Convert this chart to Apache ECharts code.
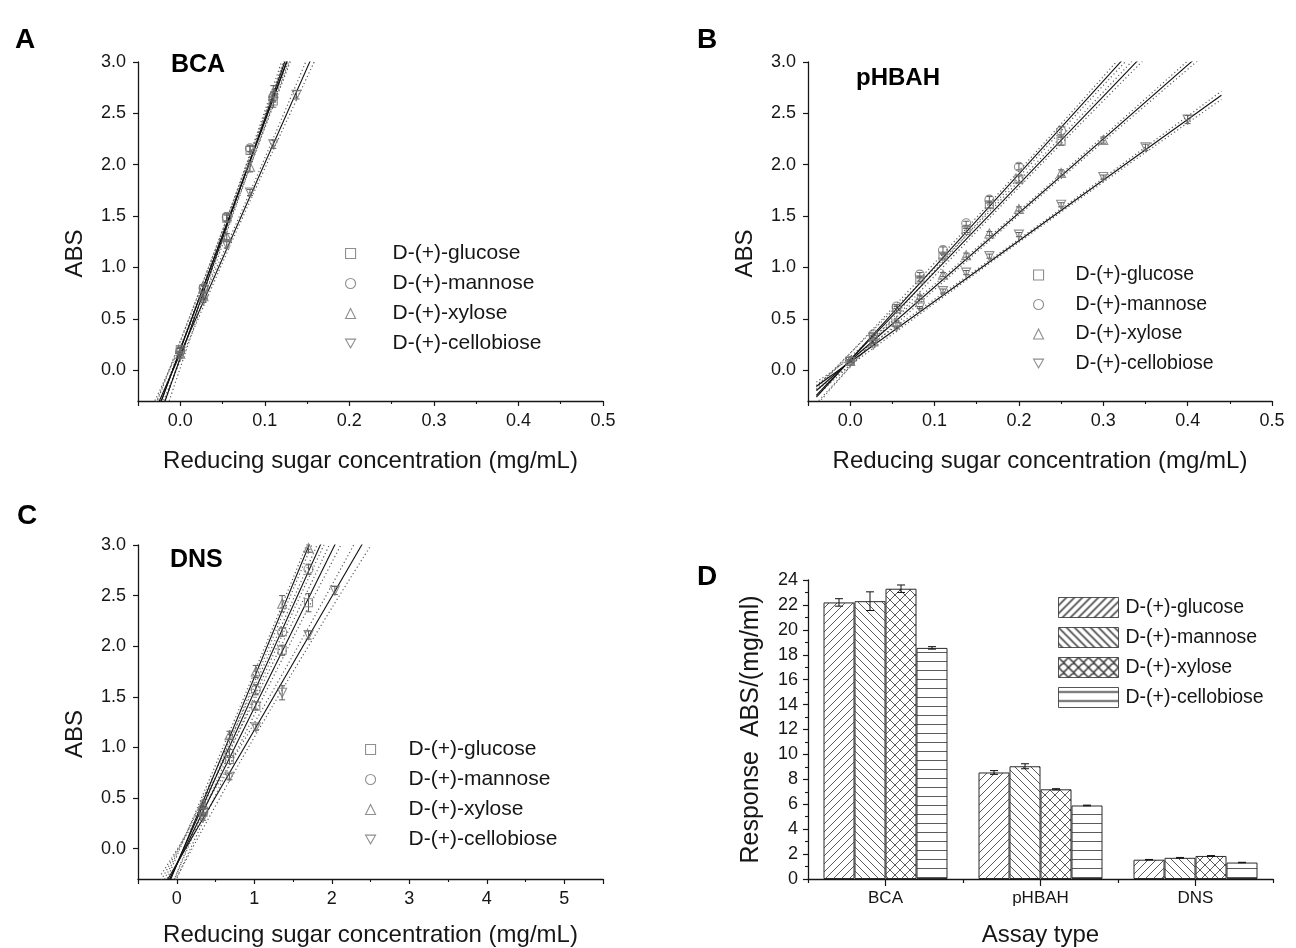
<!DOCTYPE html>
<html>
<head>
<meta charset="utf-8">
<title>Reducing sugar assays</title>
<script src="https://cdn.jsdelivr.net/npm/echarts@6/dist/echarts.min.js"></script>
<style>
  html, body { margin: 0; padding: 0; background: #fff; }
  #chart { width: 1296px; height: 948px; }
</style>
</head>
<body>
<div id="chart"></div>
<script>
// ---- data ----------------------------------------------------------------
const sugars = ['D-(+)-glucose', 'D-(+)-mannose', 'D-(+)-xylose', 'D-(+)-cellobiose'];
const assays = ['BCA', 'pHBAH', 'DNS'];

// BCA standards: concentration (mg/mL) and absorbance
const bcaX = [
  [0, 0.0275, 0.055, 0.0825, 0.11],
  [0, 0.0275, 0.055, 0.0825, 0.11],
  [0, 0.0275, 0.055, 0.0825, 0.11],
  [0, 0.0275, 0.055, 0.0825, 0.11, 0.1375]
];
const bcaY = [
  [0.20, 0.79, 1.48, 2.14, 2.62],
  [0.19, 0.80, 1.49, 2.16, 2.66],
  [0.16, 0.72, 1.30, 1.98, 2.70],
  [0.14, 0.68, 1.22, 1.73, 2.20, 2.68]
];
const bcaErr = [
  [0.02, 0.03, 0.03, 0.04, 0.06],
  [0.02, 0.03, 0.04, 0.03, 0.05],
  [0.02, 0.03, 0.03, 0.05, 0.07],
  [0.02, 0.02, 0.03, 0.03, 0.04, 0.04]
];

// pHBAH standards
const phbahX = [
  [0, 0.0275, 0.055, 0.0825, 0.11, 0.1375, 0.165, 0.2, 0.25],
  [0, 0.0275, 0.055, 0.0825, 0.11, 0.1375, 0.165, 0.2, 0.25],
  [0, 0.0275, 0.055, 0.0825, 0.11, 0.1375, 0.165, 0.2, 0.25, 0.3],
  [0, 0.0275, 0.055, 0.0825, 0.11, 0.1375, 0.165, 0.2, 0.25, 0.3, 0.35, 0.4]
];
const phbahY = [
  [0.09, 0.33, 0.60, 0.88, 1.11, 1.36, 1.61, 1.86, 2.23],
  [0.09, 0.35, 0.62, 0.93, 1.17, 1.43, 1.66, 1.98, 2.33],
  [0.09, 0.28, 0.47, 0.71, 0.93, 1.12, 1.33, 1.57, 1.92, 2.24],
  [0.08, 0.25, 0.42, 0.61, 0.77, 0.95, 1.11, 1.32, 1.61, 1.88, 2.17, 2.44]
];
const phbahErr = [
  [0.01, 0.01, 0.02, 0.02, 0.02, 0.02, 0.03, 0.03, 0.04],
  [0.01, 0.01, 0.02, 0.02, 0.03, 0.02, 0.03, 0.03, 0.04],
  [0.01, 0.01, 0.01, 0.02, 0.02, 0.02, 0.02, 0.02, 0.03, 0.03],
  [0.01, 0.01, 0.01, 0.01, 0.02, 0.02, 0.02, 0.02, 0.02, 0.02, 0.03, 0.04]
];

// DNS standards
const dnsX = [
  [0.34, 0.68, 1.02, 1.36, 1.70],
  [0.34, 0.68, 1.02, 1.36, 1.70],
  [0.34, 0.68, 1.02, 1.36, 1.70],
  [0.34, 0.68, 1.02, 1.36, 1.70, 2.04]
];
const dnsY = [
  [0.36, 0.88, 1.41, 1.96, 2.43],
  [0.39, 0.94, 1.57, 2.14, 2.76],
  [0.44, 1.12, 1.75, 2.42, 2.97],
  [0.31, 0.71, 1.20, 1.54, 2.11, 2.55]
];
const dnsErr = [
  [0.03, 0.04, 0.04, 0.05, 0.09],
  [0.03, 0.04, 0.05, 0.04, 0.05],
  [0.03, 0.04, 0.06, 0.08, 0.04],
  [0.03, 0.03, 0.03, 0.07, 0.04, 0.04]
];

// Response (slope of each calibration line), ABS/(mg/ml): [BCA, pHBAH, DNS]
const responseMean = [
  [22.2, 8.55, 1.55],
  [22.3, 9.05, 1.70],
  [23.3, 7.20, 1.85],
  [18.55, 5.90, 1.32]
];
const responseErr = [
  [0.30, 0.15, 0.02],
  [0.75, 0.20, 0.03],
  [0.30, 0.05, 0.03],
  [0.10, 0.03, 0.02]
];

// Intercepts of the linear fits
const bcaIntercept = [0.20, 0.20, 0.12, 0.16];
const phbahIntercept = [0.10, 0.10, 0.09, 0.08];
const dnsIntercept = [-0.16, -0.15, -0.16, -0.15];

// Fit line extent and 95% confidence half-widths (ABS) at three concentrations
const bcaFitRange = [-0.06, 0.2];
const bcaBandX = [-0.03, 0.06, 0.16];
const bcaBand = [[0.12, 0.05, 0.12], [0.11, 0.05, 0.11], [0.14, 0.06, 0.14], [0.10, 0.04, 0.10]];
const phbahFitRange = [-0.04, 0.44];
const phbahBandX = [-0.04, 0.2, 0.44];
const phbahBand = [[0.08, 0.03, 0.09], [0.08, 0.03, 0.09], [0.05, 0.02, 0.05], [0.04, 0.015, 0.04]];
const dnsFitRange = [-0.5, 2.7];
const dnsBandX = [-0.2, 1.0, 2.5];
const dnsBand = [[0.16, 0.07, 0.16], [0.12, 0.05, 0.12], [0.10, 0.05, 0.10], [0.16, 0.07, 0.16]];

// ---- styling helpers -----------------------------------------------------
const FONT = '"Liberation Sans", Arial, Helvetica, sans-serif';
const INK = '#161616';
const MARK = '#727272';
const markerIcons = ['rect', 'circle', 'triangle', 'path://M0,0 L10,0 L5,8.66 Z'];
const markerSizes = [8, 9, 9, 9];

function hatch(kind, stroke, width) {
  const c = document.createElement('canvas');
  const s = kind === 'h' ? 9 : (kind === 'x' ? 10 : 8);
  c.width = s; c.height = s;
  const g = c.getContext('2d');
  g.fillStyle = '#fff';
  g.fillRect(0, 0, s, s);
  g.strokeStyle = stroke;
  g.lineWidth = width;
  g.beginPath();
  if (kind === '/' || kind === 'x') {
    g.moveTo(-1, s + 1); g.lineTo(s + 1, -1);
    g.moveTo(-1, 1); g.lineTo(1, -1);
    g.moveTo(s - 1, s + 1); g.lineTo(s + 1, s - 1);
  }
  if (kind === '\\' || kind === 'x') {
    g.moveTo(-1, -1); g.lineTo(s + 1, s + 1);
    g.moveTo(s - 1, -1); g.lineTo(s + 1, 1);
    g.moveTo(-1, s - 1); g.lineTo(1, s + 1);
  }
  if (kind === 'h') {
    g.moveTo(0, 4.5); g.lineTo(s, 4.5);
  }
  g.stroke();
  return { image: c, repeat: 'repeat' };
}
const hatchKinds = ['/', '\\', 'x', 'h'];
const barFills = hatchKinds.map(k => hatch(k, '#4a4a4a', 0.9));
const legendFills = hatchKinds.map(k => hatch(k, '#000', 1.5));

function valueAxis(gridIndex, min, max, splitNumber, fmt, extra) {
  return Object.assign({
    type: 'value', gridIndex, min, max, splitNumber,
    axisLine: { show: true, onZero: false, lineStyle: { color: INK, width: 1.3 } },
    axisTick: { show: true, length: 5, lineStyle: { color: INK, width: 1.2 } },
    minorTick: { show: false },
    splitLine: { show: false },
    axisLabel: { color: INK, fontSize: 18, fontFamily: FONT, margin: 12, formatter: fmt,
                 showMinLabel: false },
    nameTextStyle: { color: INK, fontSize: 24, fontFamily: FONT },
    nameLocation: 'middle'
  }, extra || {});
}
const onTenth = v => Math.abs(v * 10 - Math.round(v * 10)) < 1e-6 ? v.toFixed(1) : '';
const onHalf = v => Math.abs(v * 2 - Math.round(v * 2)) < 1e-6 ? v.toFixed(1) : '';
const onInt = v => Math.abs(v - Math.round(v)) < 1e-6 ? String(Math.round(v)) : '';

function errorBarRender(params, api) {
  const x = api.value(0), y = api.value(1), e = api.value(2);
  const top = api.coord([x, y + e]);
  const bot = api.coord([x, y - e]);
  const h = 3;
  const st = { stroke: '#5a5a5a', lineWidth: 1 };
  return {
    type: 'group', children: [
      { type: 'line', shape: { x1: top[0], y1: top[1], x2: bot[0], y2: bot[1] }, style: st },
      { type: 'line', shape: { x1: top[0] - h, y1: top[1], x2: top[0] + h, y2: top[1] }, style: st },
      { type: 'line', shape: { x1: bot[0] - h, y1: bot[1], x2: bot[0] + h, y2: bot[1] }, style: st }
    ]
  };
}

// Series for one calibration panel: points, error bars, fit line and confidence band
function calibrationSeries(axisIndex, assayIndex, X, Y, E, intercept, fitRange, bandX, band) {
  const out = [];
  sugars.forEach((name, s) => {
    const m = responseMean[s][assayIndex];
    const b = intercept[s];
    out.push({
      type: 'line', name: name + ' fit ' + assays[assayIndex],
      xAxisIndex: axisIndex, yAxisIndex: axisIndex,
      data: fitRange.map(x => [x, m * x + b]),
      showSymbol: false, silent: true, clip: true, z: 3,
      lineStyle: { color: '#111', width: 1.1 }
    });
    [1, -1].forEach(sign => {
      out.push({
        type: 'line', name: name + ' band ' + assays[assayIndex],
        xAxisIndex: axisIndex, yAxisIndex: axisIndex,
        data: bandX.map((x, k) => [x, m * x + b + sign * band[s][k]]),
        smooth: true, showSymbol: false, silent: true, clip: true, z: 2,
        lineStyle: { color: '#5c5c5c', width: 1.2, type: [1.2, 2.6] }
      });
    });
    out.push({
      type: 'custom', name: name + ' error ' + assays[assayIndex],
      xAxisIndex: axisIndex, yAxisIndex: axisIndex,
      data: X[s].map((x, i) => [x, Y[s][i], E[s][i]]),
      renderItem: errorBarRender, clip: true, silent: true, z: 4
    });
    out.push({
      type: 'scatter', name,
      xAxisIndex: axisIndex, yAxisIndex: axisIndex,
      data: X[s].map((x, i) => [x, Y[s][i]]),
      symbol: markerIcons[s], symbolSize: markerSizes[s], clip: true, z: 5,
      itemStyle: { color: 'rgba(255,255,255,0)', borderColor: MARK, borderWidth: 1.1 }
    });
  });
  return out;
}

function markerLegend(left, top, fontSize, gap, itemGap) {
  return {
    orient: 'vertical', left, top, selectedMode: false,
    itemWidth: 10, itemHeight: 10, itemGap,
    textStyle: { color: INK, fontSize, fontFamily: FONT, lineHeight: 20, padding: [0, 0, 0, gap] },
    data: sugars.map((name, s) => ({
      name, icon: markerIcons[s],
      itemStyle: { color: '#fff', borderColor: MARK, borderWidth: 1.1 }
    }))
  };
}

// ---- bar panel -----------------------------------------------------------
const barSeries = [];
sugars.forEach((name, s) => {
  barSeries.push({
    type: 'bar', name, xAxisIndex: 3, yAxisIndex: 3,
    data: responseMean[s],
    barGap: '0%', barCategoryGap: '20%',
    itemStyle: { color: barFills[s], borderColor: '#2a2a2a', borderWidth: 1 },
    silent: true, z: 2
  });
  barSeries.push({
    type: 'custom', name: name + ' response error', xAxisIndex: 3, yAxisIndex: 3,
    data: responseMean[s].map((v, i) => [i, v, responseErr[s][i]]),
    silent: true, z: 4,
    renderItem: (params, api) => {
      const i = api.value(0), v = api.value(1), e = api.value(2);
      const band = api.size([1, 0])[0];
      const dx = (s - 1.5) * band * 0.2;
      const top = api.coord([i, v + e]);
      const bot = api.coord([i, v - e]);
      const x = top[0] + dx, h = 4;
      const st = { stroke: '#111', lineWidth: 1 };
      return {
        type: 'group', children: [
          { type: 'line', shape: { x1: x, y1: top[1], x2: x, y2: bot[1] }, style: st },
          { type: 'line', shape: { x1: x - h, y1: top[1], x2: x + h, y2: top[1] }, style: st },
          { type: 'line', shape: { x1: x - h, y1: bot[1], x2: x + h, y2: bot[1] }, style: st }
        ]
      };
    }
  });
});

// ---- chart ---------------------------------------------------------------
const chart = echarts.init(document.getElementById('chart'), null, { renderer: 'canvas' });

const letterStyle = { fontSize: 28, fontWeight: 'bold', color: '#000', fontFamily: FONT };
const assayStyle = { fontSize: 25, fontWeight: 'bold', color: '#000', fontFamily: FONT };
const xTitle = 'Reducing sugar concentration (mg/mL)';
const minorX = { show: true, splitNumber: 2, length: 3, lineStyle: { color: INK, width: 1.1 } };
const xLabel = fmt => ({ color: INK, fontSize: 18, fontFamily: FONT, margin: 11, formatter: fmt,
                         showMinLabel: false });
// ABS titles sit a little below the middle of the axis
const absName = { name: 'ABS', nameGap: 51,
  nameTextStyle: { color: INK, fontSize: 24, fontFamily: FONT, padding: [0, 44, 0, 0] } };

chart.setOption({
  backgroundColor: '#fff',
  animation: false,
  title: [
    { text: 'A', left: 10, top: 21, textStyle: letterStyle },
    { text: 'B', left: 692, top: 21, textStyle: letterStyle },
    { text: 'C', left: 12, top: 497, textStyle: letterStyle },
    { text: 'D', left: 692, top: 558, textStyle: letterStyle },
    { text: 'BCA', left: 166, top: 48, textStyle: assayStyle },
    { text: 'pHBAH', left: 851, top: 61, textStyle: Object.assign({}, assayStyle, { fontSize: 24 }) },
    { text: 'DNS', left: 165, top: 543, textStyle: assayStyle }
  ],
  grid: [
    { left: 138, top: 62, width: 465, height: 339 },
    { left: 808, top: 62, width: 464, height: 339 },
    { left: 138, top: 545, width: 465, height: 339 },
    { left: 808, top: 580, width: 465, height: 304 }
  ],
  xAxis: [
    valueAxis(0, -0.05, 0.5, 5, onTenth, { name: xTitle, nameGap: 48, minorTick: minorX, axisLabel: xLabel(onTenth) }),
    valueAxis(1, -0.05, 0.5, 5, onTenth, { name: xTitle, nameGap: 48, minorTick: minorX, axisLabel: xLabel(onTenth) }),
    valueAxis(2, -0.5, 5.5, 5, onInt, { name: xTitle, nameGap: 44, minorTick: minorX, axisLabel: xLabel(onInt) }),
    {
      type: 'category', gridIndex: 3, data: assays, position: 'bottom',
      name: 'Assay type', nameLocation: 'middle', nameGap: 44,
      nameTextStyle: { color: INK, fontSize: 24, fontFamily: FONT },
      axisLine: { lineStyle: { color: INK, width: 1.3 } },
      axisTick: { show: true, length: 4, lineStyle: { color: INK, width: 1.2 } },
      axisLabel: { color: INK, fontSize: 17, fontFamily: FONT, margin: 11 },
      splitLine: { show: false }
    },
    {
      type: 'category', gridIndex: 3, data: assays, position: 'bottom',
      axisLine: { show: false },
      axisTick: { show: true, alignWithLabel: true, length: 7, lineStyle: { color: INK, width: 1.2 } },
      axisLabel: { show: false },
      splitLine: { show: false }
    }
  ],
  yAxis: [
    valueAxis(0, -0.3, 3.0, 7, onHalf, absName),
    valueAxis(1, -0.3, 3.0, 7, onHalf, absName),
    valueAxis(2, -0.3, 3.0, 7, onHalf, absName),
    valueAxis(3, 0, 24, 12, onInt, {
      interval: 2, name: 'Response  ABS/(mg/ml)', nameGap: 44,
      nameTextStyle: { color: INK, fontSize: 25, fontFamily: FONT },
      axisLabel: { color: INK, fontSize: 18, fontFamily: FONT, margin: 10, formatter: onInt },
      minorTick: { show: true, splitNumber: 2, length: 3, lineStyle: { color: INK, width: 1.1 } }
    })
  ],
  legend: [
    markerLegend(340, 238, 21, 32, 9),
    markerLegend(1028, 260, 19.5, 27, 9.5),
    markerLegend(360, 734, 21, 28, 9),
    {
      orient: 'vertical', left: 1053, top: 592, selectedMode: false,
      itemWidth: 60, itemHeight: 20, itemGap: 9,
      textStyle: { color: INK, fontSize: 19.5, fontFamily: FONT, lineHeight: 20, padding: [0, 0, 0, 2] },
      data: sugars.map((name, s) => ({
        name, icon: 'rect',
        itemStyle: { color: legendFills[s], borderColor: '#2a2a2a', borderWidth: 1 }
      }))
    }
  ],
  series: [].concat(
    calibrationSeries(0, 0, bcaX, bcaY, bcaErr, bcaIntercept, bcaFitRange, bcaBandX, bcaBand),
    calibrationSeries(1, 1, phbahX, phbahY, phbahErr, phbahIntercept, phbahFitRange, phbahBandX, phbahBand),
    calibrationSeries(2, 2, dnsX, dnsY, dnsErr, dnsIntercept, dnsFitRange, dnsBandX, dnsBand),
    barSeries
  )
});
</script>
</body>
</html>
